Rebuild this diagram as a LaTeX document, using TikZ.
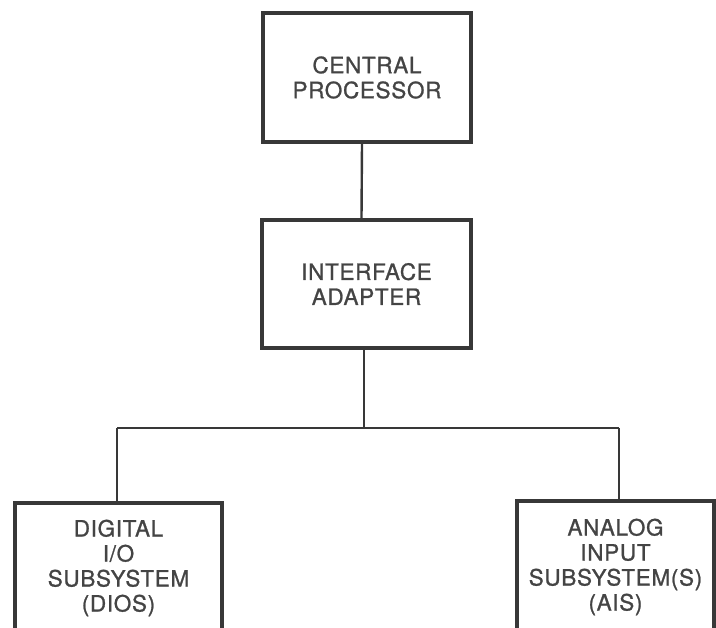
\documentclass[tikz,border=0pt]{standalone}
\usepackage{fontspec}
\setmainfont[LetterSpace=3,FakeBold=1]{TeX Gyre Heros}
\begin{document}
\begin{tikzpicture}[x=1pt,y=-1pt,
  blk/.style={draw=boxgray, line width=3.6pt, inner sep=0pt, align=center,
    text=txtgray, font=\fontsize{22.5}{25}\selectfont},
  wire/.style={draw=boxgray, line width=2.4pt}]
\definecolor{boxgray}{HTML}{383838}
\definecolor{txtgray}{HTML}{444444}
\useasboundingbox (0,0) rectangle (716,628);
\node[blk, minimum width=208pt, minimum height=129pt] (cp) at (367,77.5) {CENTRAL\\PROCESSOR};
\node[blk, minimum width=209pt, minimum height=128pt] (ia) at (366.5,284) {INTERFACE\\ADAPTER};
\node[blk, minimum width=207pt, minimum height=130pt] (dig) at (118.5,568) {DIGITAL\\I/O\\SUBSYSTEM\\(DIOS)};
\node[blk, minimum width=197pt, minimum height=132pt] (ais) at (615.5,567) {ANALOG\\INPUT\\SUBSYSTEM(S)\\(AIS)};
\coordinate (bus) at (364,428);
\coordinate (jl) at (117,428);
\coordinate (jr) at (619,428);
\draw[wire] ([xshift=-5pt]cp.south) -- ([xshift=-5pt]ia.north);
\draw[wire] (ia.south -| bus) -- (bus);
\draw[wire] (jl) -- (jr);
\draw[wire] (jl) -- (jl |- dig.north);
\draw[wire] (jr) -- (jr |- ais.north);
\end{tikzpicture}
\end{document}
